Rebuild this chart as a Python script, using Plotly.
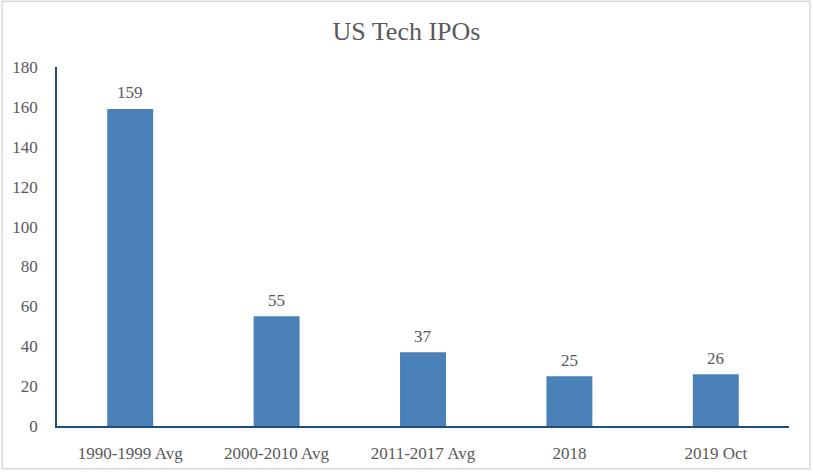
import plotly.graph_objects as go

categories = ["1990-1999 Avg", "2000-2010 Avg", "2011-2017 Avg", "2018", "2019 Oct"]
ipos = [159, 55, 37, 25, 26]
y_ticks = [0, 20, 40, 60, 80, 100, 120, 140, 160, 180]

FONT = "Liberation Serif"
GREY = "#595959"
AXIS = "#1F4E79"
BAR = "#4A81B8"

W, H = 813, 475
L, R, T, B = 56, 24, 67, 47

fig = go.Figure()
fig.add_trace(go.Bar(x=categories, y=ipos, marker=dict(color=BAR, line=dict(width=0)),
                     hoverinfo="skip"))

for i, v in enumerate(ipos):
    fig.add_annotation(x=i, y=v, text=str(v), showarrow=False, yshift=16,
                       font=dict(family=FONT, size=17, color=GREY))

pw, ph = W - L - R, H - T - B
fig.add_shape(type="rect", xref="paper", yref="paper",
              x0=(1 - L) / pw, x1=(810 - L) / pw,
              y0=(H - B - 471) / ph, y1=(H - B - 1) / ph,
              line=dict(color="#D9D9D9", width=1.5), layer="below")

fig.update_layout(
    width=W, height=H,
    margin=dict(l=L, r=R, t=T, b=B, pad=0),
    paper_bgcolor="white", plot_bgcolor="white",
    bargap=0.686,
    showlegend=False,
    title=dict(text="US Tech IPOs", x=0.5, xref="container", xanchor="center",
               y=1 - 31 / H, yanchor="middle", yref="container",
               font=dict(family=FONT, size=26, color=GREY)),
    font=dict(family=FONT, size=17, color=GREY),
    xaxis=dict(type="category", categoryorder="array", categoryarray=categories,
               range=[-0.5, len(categories) - 0.5],
               showline=True, linecolor=AXIS, linewidth=1.5,
               showgrid=False, ticks="",
               tickfont=dict(family=FONT, size=17, color=GREY),
               ticklabelstandoff=11, fixedrange=True),
    yaxis=dict(range=[0, 180], tickvals=y_ticks, showline=True, linecolor=AXIS,
               linewidth=1.5, showgrid=False, zeroline=False, ticks="",
               tickfont=dict(family=FONT, size=17, color=GREY),
               ticklabelstandoff=14, fixedrange=True),
)

fig.write_html("out.html", config={"displayModeBar": False},
               post_script="document.body.style.margin='0';")
